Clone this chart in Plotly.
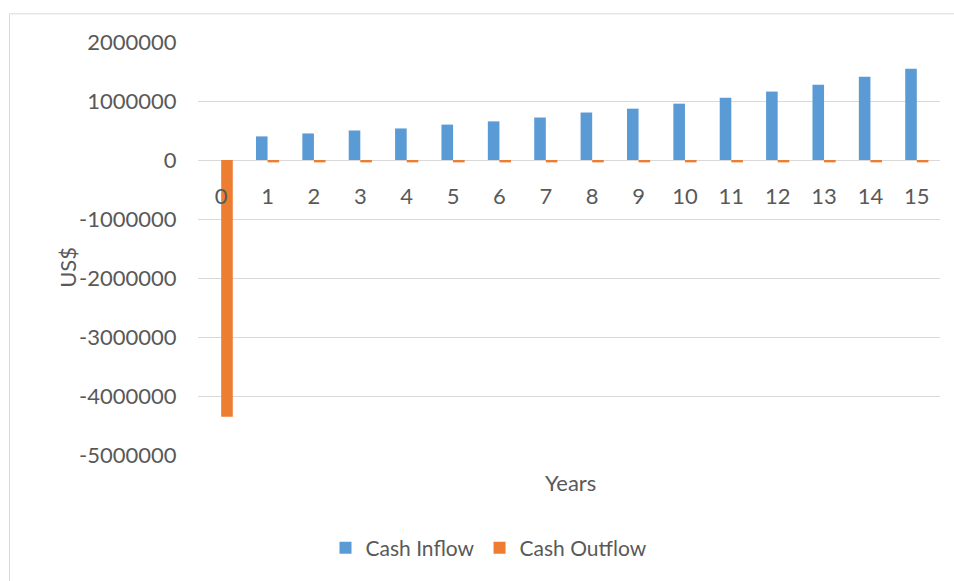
import plotly.graph_objects as go

years = list(range(16))
year_labels = [str(y) for y in years]
cash_inflow = [0, 400000, 450000, 500000, 535000, 600000, 655000, 720000, 805000,
               870000, 955000, 1055000, 1160000, 1275000, 1410000, 1545000]
cash_outflow = [-4350000] + [-40000] * 15
y_ticks = [2000000, 1000000, 0, -1000000, -2000000, -3000000, -4000000, -5000000]
y_tick_labels = ["2000000", "1000000", "0", "-1000000", "-2000000", "-3000000", "-4000000", "-5000000"]

FONT = "Lato"
TXT = "#595959"
GRID = "#d9d9d9"

fig = go.Figure()
fig.add_trace(go.Bar(x=years, y=cash_inflow, name="Cash Inflow", marker_color="#5B9BD5",
                     marker_line_width=0))
fig.add_trace(go.Bar(x=years, y=cash_outflow, name="Cash Outflow", marker_color="#ED7D31",
                     marker_line_width=0))

L, R, T, B = 198, 14, 42, 122
W, H = 954, 581
pw, ph = W - L - R, H - T - B

def px_x(x):
    return (x - L) / pw

def px_y(y):
    return (H - B - y) / ph

fig.update_layout(
    width=W, height=H,
    margin=dict(l=L, r=R, t=T, b=B, pad=0),
    paper_bgcolor="white", plot_bgcolor="white",
    barmode="group", bargap=0.5, bargroupgap=0,
    font=dict(family=FONT, color=TXT, size=20),
    showlegend=True,
    legend=dict(orientation="h", xanchor="center", yanchor="middle",
                x=px_x(489), y=px_y(553), font=dict(size=21, color=TXT),
                bgcolor="rgba(0,0,0,0)"),
    xaxis=dict(range=[-0.5, 15.5], tickvals=years, ticktext=year_labels,
               showgrid=False, zeroline=False, showline=False,
               anchor="free", position=5 / 7,
               ticks="outside", ticklen=17, tickcolor="rgba(0,0,0,0)",
               tickfont=dict(size=22, color=TXT)),
    yaxis=dict(range=[-5000000, 2000000], tickvals=y_ticks, ticktext=y_tick_labels,
               showgrid=True, gridcolor=GRID, gridwidth=1, zeroline=True,
               zerolinecolor=GRID, zerolinewidth=1, showline=False,
               ticks="outside", ticklen=16, tickcolor="rgba(0,0,0,0)",
               tickfont=dict(size=22, color=TXT)),
    annotations=[
        dict(text="Years", xref="paper", yref="paper", x=px_x(570), y=px_y(487),
             showarrow=False, xanchor="center", yanchor="middle",
             font=dict(size=22, color=TXT)),
        dict(text="US$", xref="paper", yref="paper", x=px_x(68), y=px_y(270),
             showarrow=False, xanchor="center", yanchor="middle", textangle=-90,
             font=dict(size=22, color=TXT)),
    ],
    shapes=[dict(type="rect", xref="paper", yref="paper",
                 x0=px_x(9.5), x1=px_x(970), y0=px_y(600), y1=px_y(13.5),
                 line=dict(color=GRID, width=1), fillcolor="rgba(0,0,0,0)", layer="below")],
)

fig.write_html("out.html", config={"displayModeBar": False},
               post_script="document.body.style.margin='0';document.body.style.overflow='hidden';")
